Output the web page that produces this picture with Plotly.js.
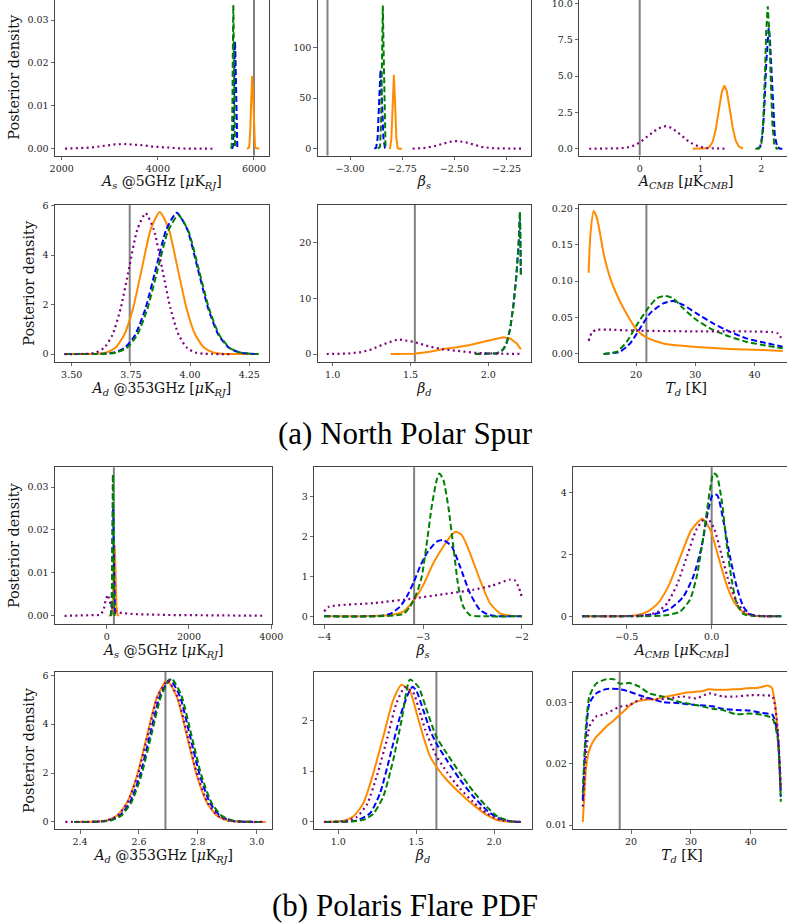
<!DOCTYPE html>
<html>
<head>
<meta charset="utf-8">
<script src="https://cdn.plot.ly/plotly-3.0.1.min.js"></script>
<style>
html,body{margin:0;padding:0;overflow:hidden;background:#fff;width:787px;height:923px;}
#chart{position:absolute;left:0;top:-1px;width:800px;height:925px;}
</style>
</head>
<body>
<div id="chart"></div>
<script>
// ---------------- DATA ----------------
// Vertical grey reference (input) values, one per panel
const truthValues = [6000, -3.108, 0, 3.745, 1.528, 21.73, 175, -3.09, 0, 2.69, 1.63, 18.1];

// (a) North Polar Spur — A_s @5GHz
const p1PurpleX = [2070, 2300, 2500, 2700, 2900, 3100, 3300, 3500, 3700, 3900, 4100, 4300, 4500, 4800, 5150];
const p1PurpleY = [0.00003, 0.00008, 0.0002, 0.0004, 0.0007, 0.001, 0.0011, 0.001, 0.0008, 0.0005, 0.0003, 0.00015, 0.00006, 0.00001, 0];
const p1OrangeX = [5855, 5892, 5903, 5915, 5927, 5939, 5950, 5962, 5974, 5986, 5997, 6009, 6021, 6033, 6110];
const p1OrangeY = [0, 0.0002, 0.0007, 0.0023, 0.0055, 0.0103, 0.015, 0.017, 0.015, 0.0103, 0.0055, 0.0023, 0.0007, 0.0002, 0];
const p1BlueX = [5540, 5557, 5565, 5573, 5581, 5589, 5597, 5605, 5613, 5621, 5629, 5637, 5645, 5653, 5670];
const p1BlueY = [0, 0.0003, 0.0011, 0.0034, 0.0081, 0.0152, 0.0221, 0.025, 0.0221, 0.0152, 0.0081, 0.0034, 0.0011, 0.0003, 0];
const p1GreenX = [5520, 5534, 5540, 5546, 5552, 5558, 5564, 5570, 5576, 5582, 5588, 5594, 5600, 5606, 5620];
const p1GreenY = [0, 0.0004, 0.0015, 0.0045, 0.0109, 0.0203, 0.0296, 0.0335, 0.0296, 0.0203, 0.0109, 0.0045, 0.0015, 0.0004, 0];

// (a) beta_s
const p2PurpleX = [-2.70, -2.65, -2.60, -2.56, -2.52, -2.49, -2.45, -2.41, -2.37, -2.32, -2.27, -2.18];
const p2PurpleY = [0.1, 0.6, 2.3, 4.7, 6.9, 7.6, 6.6, 4.2, 1.9, 0.5, 0.07, 0];
const p2OrangeX = [-2.813, -2.808, -2.802, -2.796, -2.790, -2.784, -2.778, -2.772, -2.765, -2.751];
const p2OrangeY = [0.05, 0.8, 9.9, 44, 73, 44, 9.9, 0.8, 0, 0];
const p2BlueX = [-2.884, -2.875, -2.868, -2.861, -2.854, -2.847, -2.840, -2.833, -2.828];
const p2BlueY = [0, 0.9, 10.5, 47, 78, 47, 10.5, 0.9, 0];
const p2GreenX = [-2.866, -2.856, -2.851, -2.847, -2.843, -2.839, -2.835, -2.830, -2.823];
const p2GreenY = [0, 2.2, 29, 95, 141.6, 95, 29, 2.2, 0];

// (a) A_CMB
const p3PurpleX = [-0.83, -0.6, -0.4, -0.3, -0.2, -0.1, 0.0, 0.1, 0.2, 0.3, 0.42, 0.5, 0.6, 0.7, 0.8, 0.9, 1.0, 1.1, 1.2, 1.4];
const p3PurpleY = [0, 0.001, 0.011, 0.035, 0.093, 0.216, 0.43, 0.74, 1.10, 1.40, 1.55, 1.47, 1.21, 0.85, 0.52, 0.27, 0.12, 0.049, 0.016, 0.001];
const p3OrangeX = [0.87, 1.0, 1.1, 1.15, 1.2, 1.25, 1.3, 1.35, 1.39, 1.43, 1.48, 1.53, 1.58, 1.63, 1.70];
const p3OrangeY = [0, 0.0005, 0.028, 0.137, 0.49, 1.32, 2.64, 3.92, 4.35, 3.99, 2.75, 1.41, 0.54, 0.15, 0.016];
const p3BlueX = [1.93, 1.98, 2.02, 2.05, 2.08, 2.10, 2.12, 2.14, 2.16, 2.19, 2.22, 2.26, 2.31, 2.345];
const p3BlueY = [0.003, 0.12, 0.95, 2.87, 5.87, 7.6, 8.3, 7.6, 5.87, 2.87, 0.95, 0.12, 0.003, 0];
const p3GreenX = [1.90, 1.96, 2.00, 2.03, 2.06, 2.08, 2.105, 2.13, 2.15, 2.18, 2.21, 2.25, 2.28];
const p3GreenY = [0, 0.017, 0.35, 1.79, 5.3, 8.1, 9.8, 8.1, 5.3, 1.79, 0.35, 0.017, 0];

// (a) A_d @353GHz
const p4PurpleX = [3.47, 3.532, 3.567, 3.602, 3.637, 3.672, 3.707, 3.742, 3.777, 3.812, 3.847, 3.882, 3.917, 3.952, 3.987, 4.022, 4.057, 4.092, 4.17];
const p4PurpleY = [0, 0.0017, 0.0125, 0.063, 0.25, 0.771, 1.851, 3.457, 5.03, 5.7, 5.03, 3.457, 1.851, 0.771, 0.25, 0.063, 0.0125, 0.0017, 0];
const p4OrangeX = [3.47, 3.572, 3.6095, 3.647, 3.6845, 3.722, 3.7595, 3.797, 3.8345, 3.872, 3.9095, 3.947, 3.9845, 4.022, 4.0595, 4.097, 4.1345, 4.172, 4.26];
const p4OrangeY = [0, 0.0017, 0.0127, 0.064, 0.252, 0.778, 1.867, 3.487, 5.074, 5.75, 5.074, 3.487, 1.867, 0.778, 0.252, 0.064, 0.0127, 0.0017, 0];
const p4BlueX = [3.47, 3.592, 3.636, 3.68, 3.724, 3.768, 3.812, 3.856, 3.9, 3.944, 3.988, 4.032, 4.076, 4.12, 4.164, 4.208, 4.252, 4.29];
const p4BlueY = [0, 0.0017, 0.0126, 0.0635, 0.251, 0.774, 1.857, 3.469, 5.048, 5.72, 5.048, 3.469, 1.857, 0.774, 0.251, 0.0635, 0.0126, 0.0017];
const p4GreenX = [3.47, 3.602, 3.6455, 3.689, 3.7325, 3.776, 3.8195, 3.863, 3.9065, 3.95, 3.9935, 4.037, 4.0805, 4.124, 4.1675, 4.211, 4.2545, 4.29];
const p4GreenY = [0, 0.0017, 0.0124, 0.0624, 0.247, 0.760, 1.825, 3.409, 4.96, 5.62, 4.96, 3.409, 1.825, 0.760, 0.247, 0.0624, 0.0124, 0.0017];

// (a) beta_d
const p5PurpleX = [0.962, 1.09, 1.175, 1.24, 1.325, 1.42, 1.518, 1.625, 1.711, 1.797, 1.925, 2.054, 2.209];
const p5PurpleY = [0, 0.06, 0.3, 0.72, 1.73, 2.63, 2.2, 1.31, 0.84, 0.54, 0.18, 0.06, 0.01];
const p5OrangeX = [1.373, 1.45, 1.524, 1.625, 1.711, 1.797, 1.883, 1.968, 2.054, 2.096, 2.139, 2.183, 2.209];
const p5OrangeY = [0, 0.02, 0.06, 0.4, 0.9, 1.2, 1.6, 2.2, 2.7, 3.0, 2.8, 1.9, 0.84];
const p5BlueX = [1.915, 2.0, 2.05, 2.08, 2.10, 2.12, 2.14, 2.16, 2.18, 2.195, 2.203, 2.209];
const p5BlueY = [0, 0.02, 0.1, 0.4, 1.0, 2.2, 4.5, 8.5, 14, 20, 25.5, 14];
const p5GreenX = [1.915, 2.0, 2.05, 2.08, 2.10, 2.12, 2.14, 2.16, 2.18, 2.195, 2.203, 2.209];
const p5GreenY = [0, 0.02, 0.1, 0.4, 1.0, 2.2, 4.5, 8.4, 13.9, 20, 25.4, 14.2];

// (a) T_d
const p6PurpleX = [11.98, 12.5, 13.2, 15, 20, 25, 30, 35, 40, 43, 44, 44.7];
const p6PurpleY = [0.018, 0.029, 0.033, 0.0335, 0.032, 0.0315, 0.031, 0.031, 0.0308, 0.030, 0.028, 0.019];
const p6OrangeX = [11.98, 12.27, 12.83, 13.39, 13.95, 14.5, 15.63, 16.76, 17.87, 18.99, 20.1, 21.8, 24.6, 27.4, 30.2, 35.8, 41.4, 44.76];
const p6OrangeY = [0.1116, 0.1633, 0.1963, 0.1862, 0.1633, 0.1382, 0.1039, 0.081, 0.0627, 0.0467, 0.033, 0.0224, 0.0145, 0.0115, 0.0095, 0.007, 0.0055, 0.0042];
const p6BlueX = [14.5, 17.31, 18.99, 20.67, 22.35, 24.6, 26.27, 27.95, 30.2, 33.0, 35.8, 38.6, 41.4, 44.76];
const p6BlueY = [0, 0.0032, 0.0146, 0.0352, 0.0558, 0.0695, 0.0728, 0.0673, 0.0558, 0.0421, 0.0307, 0.0215, 0.016, 0.0101];
const p6GreenX = [14.5, 16.76, 18.43, 20.1, 21.8, 23.47, 24.87, 26.27, 27.95, 30.2, 33.0, 35.8, 38.6, 41.4, 44.76];
const p6GreenY = [0, 0.0032, 0.0169, 0.0398, 0.0604, 0.0764, 0.0796, 0.0764, 0.0627, 0.0467, 0.033, 0.0238, 0.0169, 0.0124, 0.0078];

// (b) Polaris Flare — A_s @5GHz
const p7PurpleX = [-1023, -500, -158, -77, -30, 22, 60, 100, 170, 336, 665, 1489, 2312, 3134, 3790];
const p7PurpleY = [0, 0.00005, 0.0002, 0.0012, 0.0035, 0.0049, 0.004, 0.0025, 0.0012, 0.0007, 0.0004, 0.0002, 0.0001, 0.00005, 0.00002];
const p7OrangeX = [50, 118, 142, 154, 166, 178, 190, 202, 214, 226, 238, 262, 300];
const p7OrangeY = [0, 0.0002, 0.0022, 0.0054, 0.01, 0.0146, 0.0165, 0.0146, 0.01, 0.0054, 0.0022, 0.0002, 0];
const p7BlueX = [90, 107, 123, 131, 139, 147, 155, 163, 171, 179, 187, 203, 220];
const p7BlueY = [0, 0.0003, 0.0034, 0.0081, 0.0152, 0.0221, 0.025, 0.0221, 0.0152, 0.0081, 0.0034, 0.0003, 0];
const p7GreenX = [100, 114, 126, 132, 138, 144, 150, 156, 162, 168, 174, 186, 200];
const p7GreenY = [0, 0.0004, 0.0045, 0.0107, 0.02, 0.0291, 0.033, 0.0291, 0.02, 0.0107, 0.0045, 0.0004, 0];

// (b) beta_s
const p8PurpleX = [-4.0, -3.95, -3.5, -3.09, -2.8, -2.5, -2.3, -2.12, -2.07, -2.03, -2.0];
const p8PurpleY = [0.12, 0.24, 0.33, 0.45, 0.55, 0.66, 0.77, 0.92, 0.9, 0.72, 0.48];
const p8OrangeX = [-4.0, -3.536, -3.334, -3.199, -3.091, -2.997, -2.896, -2.794, -2.71, -2.669, -2.608, -2.524, -2.423, -2.322, -2.22, -2.119, -2.0];
const p8OrangeY = [0, 0.008, 0.033, 0.117, 0.41, 0.785, 1.33, 1.75, 2.04, 2.12, 2.04, 1.58, 0.91, 0.326, 0.075, 0.017, 0];
const p8BlueX = [-4.0, -3.435, -3.334, -3.233, -3.165, -3.091, -3.03, -2.962, -2.861, -2.794, -2.71, -2.625, -2.524, -2.423, -2.322, -2.187, -2.0];
const p8BlueY = [0, 0.008, 0.058, 0.242, 0.49, 0.87, 1.245, 1.58, 1.87, 1.91, 1.75, 1.245, 0.576, 0.159, 0.025, 0, 0];
const p8GreenX = [-4.0, -3.468, -3.2, -3.131, -3.064, -3.013, -2.962, -2.912, -2.861, -2.835, -2.794, -2.744, -2.693, -2.642, -2.592, -2.524, -2.355, -2.0];
const p8GreenY = [0, 0, 0.058, 0.24, 0.58, 0.99, 1.83, 2.75, 3.42, 3.58, 3.42, 2.75, 1.75, 0.74, 0.24, 0.03, 0, 0];

// (b) A_CMB
const p9PurpleX = [-0.761, -0.5, -0.4325, -0.375, -0.3175, -0.26, -0.2025, -0.145, -0.0875, -0.03, 0.015, 0.06, 0.105, 0.15, 0.195, 0.24, 0.285, 0.4];
const p9PurpleY = [0, 0.003, 0.007, 0.036, 0.14, 0.433, 1.039, 1.941, 2.824, 3.2, 2.824, 1.941, 1.039, 0.433, 0.14, 0.036, 0.007, 0];
const p9OrangeX = [-0.761, -0.58, -0.51, -0.445, -0.38, -0.315, -0.25, -0.185, -0.12, -0.055, -0.0075, 0.04, 0.0875, 0.135, 0.1825, 0.23, 0.2775, 0.4];
const p9OrangeY = [0, 0.002, 0.0069, 0.035, 0.138, 0.426, 1.023, 1.91, 2.78, 3.15, 2.78, 1.91, 1.023, 0.426, 0.138, 0.035, 0.0069, 0];
const p9BlueX = [-0.761, -0.5, -0.4, -0.33, -0.24, -0.167, -0.108, -0.059, -0.02, 0.006, 0.033, 0.068, 0.108, 0.147, 0.186, 0.225, 0.284, 0.41];
const p9BlueY = [0, 0.005, 0.03, 0.08, 0.26, 0.63, 1.28, 2.25, 3.43, 3.92, 3.91, 3.11, 1.92, 0.96, 0.31, 0.065, 0.01, 0];
const p9GreenX = [-0.761, -0.4, -0.285, -0.186, -0.128, -0.088, -0.049, -0.01, 0.01, 0.029, 0.059, 0.088, 0.118, 0.147, 0.186, 0.245, 0.41];
const p9GreenY = [0, 0.002, 0.02, 0.15, 0.53, 1.28, 2.57, 4.08, 4.61, 4.56, 3.75, 2.35, 1.17, 0.42, 0.075, 0.01, 0];

// (b) A_d @353GHz
const p10PurpleX = [2.35, 2.425, 2.459, 2.493, 2.527, 2.561, 2.595, 2.629, 2.663, 2.697, 2.731, 2.765, 2.799, 2.833, 2.867, 2.901, 2.935, 2.969, 3.02];
const p10PurpleY = [0, 0.0017, 0.0127, 0.0642, 0.254, 0.782, 1.877, 3.506, 5.101, 5.78, 5.101, 3.506, 1.877, 0.782, 0.254, 0.0642, 0.0127, 0.0017, 0];
const p10OrangeX = [2.38, 2.423, 2.457, 2.491, 2.525, 2.559, 2.593, 2.627, 2.661, 2.695, 2.729, 2.763, 2.797, 2.831, 2.865, 2.899, 2.933, 2.967, 3.03];
const p10OrangeY = [0, 0.0017, 0.0127, 0.0642, 0.254, 0.782, 1.877, 3.506, 5.101, 5.78, 5.101, 3.506, 1.877, 0.782, 0.254, 0.0642, 0.0127, 0.0017, 0];
const p10BlueX = [2.38, 2.433, 2.467, 2.501, 2.535, 2.569, 2.603, 2.637, 2.671, 2.705, 2.739, 2.773, 2.807, 2.841, 2.875, 2.909, 2.943, 2.977, 3.02];
const p10BlueY = [0, 0.0017, 0.0128, 0.0646, 0.2555, 0.7875, 1.89, 3.53, 5.136, 5.82, 5.136, 3.53, 1.89, 0.7875, 0.2555, 0.0646, 0.0128, 0.0017, 0];
const p10GreenX = [2.38, 2.438, 2.472, 2.506, 2.54, 2.574, 2.608, 2.642, 2.676, 2.71, 2.744, 2.778, 2.812, 2.846, 2.88, 2.914, 2.948, 2.982, 3.02];
const p10GreenY = [0, 0.0018, 0.0129, 0.065, 0.257, 0.793, 1.903, 3.554, 5.171, 5.86, 5.171, 3.554, 1.903, 0.793, 0.257, 0.065, 0.0129, 0.0018, 0];

// (b) beta_d
const p11PurpleX = [0.908, 1.05, 1.12, 1.185, 1.25, 1.315, 1.375, 1.428, 1.48, 1.52, 1.56, 1.6, 1.629, 1.7, 1.78, 1.867, 1.953, 2.039, 2.171];
const p11PurpleY = [0, 0.02, 0.1, 0.35, 0.93, 1.65, 2.35, 2.65, 2.55, 2.2, 1.8, 1.5, 1.3, 0.97, 0.66, 0.39, 0.17, 0.04, 0];
const p11OrangeX = [0.908, 1.032, 1.096, 1.161, 1.225, 1.289, 1.353, 1.407, 1.46, 1.503, 1.546, 1.589, 1.629, 1.696, 1.782, 1.867, 1.953, 2.039, 2.171];
const p11OrangeY = [0, 0.02, 0.105, 0.367, 0.958, 1.68, 2.4, 2.7, 2.57, 2.14, 1.68, 1.29, 1.09, 0.83, 0.564, 0.335, 0.138, 0.02, 0];
const p11BlueX = [0.908, 0.99, 1.118, 1.204, 1.268, 1.332, 1.396, 1.45, 1.478, 1.503, 1.546, 1.589, 1.629, 1.696, 1.782, 1.867, 1.953, 2.017, 2.103, 2.171];
const p11BlueY = [0, 0, 0.026, 0.17, 0.564, 1.29, 2.07, 2.53, 2.66, 2.57, 2.2, 1.81, 1.55, 1.22, 0.83, 0.5, 0.23, 0.09, 0.013, 0];
const p11GreenX = [0.908, 1.075, 1.161, 1.225, 1.289, 1.353, 1.407, 1.46, 1.514, 1.568, 1.629, 1.696, 1.782, 1.867, 1.953, 2.017, 2.103, 2.171];
const p11GreenY = [0, 0.007, 0.04, 0.157, 0.5, 1.22, 2.01, 2.8, 2.66, 2.2, 1.68, 1.35, 0.96, 0.6, 0.3, 0.118, 0.013, 0];

// (b) T_d
const p12PurpleX = [11.93, 12.49, 13.04, 14.15, 15.82, 18.04, 19.72, 21.94, 24.16, 26.38, 28.6, 30.83, 33.05, 35.27, 37.5, 39.72, 41.94, 43.6, 44.44, 45.0];
const p12PurpleY = [0.013, 0.0217, 0.0261, 0.0277, 0.0282, 0.0293, 0.0296, 0.0307, 0.0305, 0.0307, 0.031, 0.0307, 0.0315, 0.031, 0.031, 0.0312, 0.0312, 0.031, 0.026, 0.0163];
const p12OrangeX = [11.93, 12.2, 12.5, 13.0, 14, 15, 16, 17, 18.1, 19, 20, 21, 22, 23, 24, 25, 26, 27, 28, 29, 30, 31, 32, 33, 34, 35, 36, 37, 38, 39, 40, 41, 42, 42.8, 43.5, 44, 44.5, 45];
const p12OrangeY = [0.0105, 0.015, 0.0195, 0.0222, 0.0242, 0.0252, 0.0262, 0.027, 0.028, 0.0288, 0.0297, 0.0302, 0.0304, 0.0305, 0.0305, 0.0308, 0.031, 0.0312, 0.0314, 0.0316, 0.0317, 0.0318, 0.0319, 0.0322, 0.0321, 0.0321, 0.0321, 0.0322, 0.0322, 0.0323, 0.0324, 0.0324, 0.0326, 0.0328, 0.0324, 0.030, 0.025, 0.0155];
const p12BlueX = [11.93, 12.49, 13.04, 14.15, 15.82, 18.04, 19.72, 21.38, 23.05, 25.27, 28.05, 30.83, 33.6, 35.27, 37.5, 39.72, 41.94, 43.6, 44.44, 45.0];
const p12BlueY = [0.0141, 0.025, 0.0299, 0.0315, 0.0322, 0.0322, 0.0318, 0.0312, 0.0307, 0.0301, 0.0299, 0.0296, 0.0294, 0.029, 0.0288, 0.0287, 0.0283, 0.028, 0.025, 0.0146];
const p12GreenX = [11.93, 12.49, 13.04, 14.15, 15.82, 17.2, 18.04, 19.72, 21.38, 23.05, 25.27, 28.05, 30.83, 33.6, 35.27, 37.5, 39.72, 41.94, 43.6, 44.44, 45.0];
const p12GreenY = [0.0152, 0.0266, 0.031, 0.0331, 0.0338, 0.0338, 0.0331, 0.0332, 0.0326, 0.0315, 0.031, 0.0301, 0.0296, 0.029, 0.0288, 0.0281, 0.0282, 0.028, 0.0274, 0.0244, 0.0138];

// Tick values / labels
const p1XTicks = [2000, 4000, 6000], p1XText = ['2000', '4000', '6000'];
const p1YTicks = [0, 0.01, 0.02, 0.03], p1YText = ['0.00', '0.01', '0.02', '0.03'];
const p2XTicks = [-3.0, -2.75, -2.5, -2.25], p2XText = ['\u22123.00', '\u22122.75', '\u22122.50', '\u22122.25'];
const p2YTicks = [0, 50, 100], p2YText = ['0', '50', '100'];
const p3XTicks = [0, 1, 2], p3XText = ['0', '1', '2'];
const p3YTicks = [0, 2.5, 5, 7.5, 10], p3YText = ['0.0', '2.5', '5.0', '7.5', '10.0'];
const p4XTicks = [3.5, 3.75, 4.0, 4.25], p4XText = ['3.50', '3.75', '4.00', '4.25'];
const p4YTicks = [0, 2, 4, 6], p4YText = ['0', '2', '4', '6'];
const p5XTicks = [1.0, 1.5, 2.0], p5XText = ['1.0', '1.5', '2.0'];
const p5YTicks = [0, 10, 20], p5YText = ['0', '10', '20'];
const p6XTicks = [20, 30, 40], p6XText = ['20', '30', '40'];
const p6YTicks = [0, 0.05, 0.1, 0.15, 0.2], p6YText = ['0.00', '0.05', '0.10', '0.15', '0.20'];
const p7XTicks = [0, 2000, 4000], p7XText = ['0', '2000', '4000'];
const p7YTicks = [0, 0.01, 0.02, 0.03], p7YText = ['0.00', '0.01', '0.02', '0.03'];
const p8XTicks = [-4, -3, -2], p8XText = ['\u22124', '\u22123', '\u22122'];
const p8YTicks = [0, 1, 2, 3], p8YText = ['0', '1', '2', '3'];
const p9XTicks = [-0.5, 0.0], p9XText = ['\u22120.5', '0.0'];
const p9YTicks = [0, 2, 4], p9YText = ['0', '2', '4'];
const p10XTicks = [2.4, 2.6, 2.8, 3.0], p10XText = ['2.4', '2.6', '2.8', '3.0'];
const p10YTicks = [0, 2, 4, 6], p10YText = ['0', '2', '4', '6'];
const p11XTicks = [1.0, 1.5, 2.0], p11XText = ['1.0', '1.5', '2.0'];
const p11YTicks = [0, 1, 2], p11YText = ['0', '1', '2'];
const p12XTicks = [20, 30, 40], p12XText = ['20', '30', '40'];
const p12YTicks = [0.01, 0.02, 0.03], p12YText = ['0.01', '0.02', '0.03'];

// Axis titles and captions
const labelAs = '<i>A</i><sub><i>s</i></sub> @5GHz [<i>\u03bc</i>K<sub><i>RJ</i></sub>]';
const labelBs = '<i>\u03b2</i><sub><i>s</i></sub>';
const labelAcmb = '<i>A</i><sub><i>CMB</i></sub> [<i>\u03bc</i>K<sub><i>CMB</i></sub>]';
const labelAd = '<i>A</i><sub><i>d</i></sub> @353GHz [<i>\u03bc</i>K<sub><i>RJ</i></sub>]';
const labelBd = '<i>\u03b2</i><sub><i>d</i></sub>';
const labelTd = '<i>T</i><sub><i>d</i></sub> [K]';
const yLabel = 'Posterior density';
const captionA = '(a) North Polar Spur';
const captionB = '(b) Polaris Flare PDF';

// ---------------- LAYOUT / STYLE ----------------
const W = 800, H = 925, OFFY = 1;
function dX(a, b) { return [a / W, b / W]; }
function dY(top, bottom) { return [1 - (bottom + OFFY) / H, 1 - (top + OFFY) / H]; }

const panels = [
  {px:[55,268.7],   py:[-1.0,155.6], xr:[1861,6306],     yr:[-0.0016,0.0349], xv:p1XTicks, xt:p1XText, yv:p1YTicks, yt:p1YText, xl:labelAs, yl:true,
   s:[[p1PurpleX,p1PurpleY],[p1OrangeX,p1OrangeY],[p1BlueX,p1BlueY],[p1GreenX,p1GreenY]], sm:false},
  {px:[317.7,531],  py:[-1.0,155.6], xr:[-3.155,-2.133], yr:[-6.8,148.0],     xv:p2XTicks, xt:p2XText, yv:p2YTicks, yt:p2YText, xl:labelBs, yl:false,
   s:[[p2PurpleX,p2PurpleY],[p2OrangeX,p2OrangeY],[p2BlueX,p2BlueY],[p2GreenX,p2GreenY]], sm:false},
  {px:[579.3,793],  py:[-1.0,155.6], xr:[-0.993,2.52],   yr:[-0.47,10.30],    xv:p3XTicks, xt:p3XText, yv:p3YTicks, yt:p3YText, xl:labelAcmb, yl:false,
   s:[[p3PurpleX,p3PurpleY],[p3OrangeX,p3OrangeY],[p3BlueX,p3BlueY],[p3GreenX,p3GreenY]], sm:false, yshift:-2.5},
  {px:[55,268.7],   py:[205,361.7],  xr:[3.4295,4.332],  yr:[-0.31,6.03],     xv:p4XTicks, xt:p4XText, yv:p4YTicks, yt:p4YText, xl:labelAd, yl:true,
   s:[[p4PurpleX,p4PurpleY],[p4OrangeX,p4OrangeY],[p4BlueX,p4BlueY],[p4GreenX,p4GreenY]], sm:true},
  {px:[317.7,531],  py:[205,361.7],  xr:[0.904,2.274],   yr:[-1.38,26.7],     xv:p5XTicks, xt:p5XText, yv:p5YTicks, yt:p5YText, xl:labelBd, yl:false,
   s:[[p5PurpleX,p5PurpleY],[p5OrangeX,p5OrangeY],[p5BlueX,p5BlueY],[p5GreenX,p5GreenY]], sm:false},
  {px:[579.3,793],  py:[205,361.7],  xr:[10.4,46.5],     yr:[-0.0106,0.2046], xv:p6XTicks, xt:p6XText, yv:p6YTicks, yt:p6YText, xl:labelTd, yl:false,
   s:[[p6PurpleX,p6PurpleY],[p6OrangeX,p6OrangeY],[p6BlueX,p6BlueY],[p6GreenX,p6GreenY]], sm:true},
  {px:[55,272.4],   py:[467.3,624],  xr:[-1256,4027],    yr:[-0.0019,0.0346], xv:p7XTicks, xt:p7XText, yv:p7YTicks, yt:p7YText, xl:labelAs, yl:true,
   s:[[p7PurpleX,p7PurpleY],[p7OrangeX,p7OrangeY],[p7BlueX,p7BlueY],[p7GreenX,p7GreenY]], sm:false},
  {px:[314.3,531.7],py:[467.3,624],  xr:[-4.1,-1.9],     yr:[-0.193,3.735],   xv:p8XTicks, xt:p8XText, yv:p8YTicks, yt:p8YText, xl:labelBs, yl:false,
   s:[[p8PurpleX,p8PurpleY],[p8OrangeX,p8OrangeY],[p8BlueX,p8BlueY],[p8GreenX,p8GreenY]], sm:true},
  {px:[573.3,790.7],py:[467.3,624],  xr:[-0.814,0.465],  yr:[-0.25,4.81],     xv:p9XTicks, xt:p9XText, yv:p9YTicks, yt:p9YText, xl:labelAcmb, yl:false,
   s:[[p9PurpleX,p9PurpleY],[p9OrangeX,p9OrangeY],[p9BlueX,p9BlueY],[p9GreenX,p9GreenY]], sm:true},
  {px:[55,272.4],   py:[672,829],    xr:[2.315,3.053],   yr:[-0.29,6.13],     xv:p10XTicks, xt:p10XText, yv:p10YTicks, yt:p10YText, xl:labelAd, yl:true,
   s:[[p10PurpleX,p10PurpleY],[p10OrangeX,p10OrangeY],[p10BlueX,p10BlueY],[p10GreenX,p10GreenY]], sm:true},
  {px:[314.3,531.7],py:[672,829],    xr:[0.846,2.242],   yr:[-0.14,2.95],     xv:p11XTicks, xt:p11XText, yv:p11YTicks, yt:p11YText, xl:labelBd, yl:false,
   s:[[p11PurpleX,p11PurpleY],[p11OrangeX,p11OrangeY],[p11BlueX,p11BlueY],[p11GreenX,p11GreenY]], sm:true},
  {px:[573.3,790.7],py:[672,829],    xr:[10.35,46.65],   yr:[0.00935,0.035],  xv:p12XTicks, xt:p12XText, yv:p12YTicks, yt:p12YText, xl:labelTd, yl:false,
   s:[[p12PurpleX,p12PurpleY],[p12OrangeX,p12OrangeY],[p12BlueX,p12BlueY],[p12GreenX,p12GreenY]], sm:true}
];

// series order in arrays: purple, orange, blue, green ; draw order: orange, blue, green, purple
const seriesStyle = [
  {color:'#800080', width:2.2, dash:'2px,3.4px'},
  {color:'#ff8c00', width:2.0, dash:'solid'},
  {color:'#0000ff', width:2.0, dash:'6px,3px'},
  {color:'#008000', width:2.0, dash:'6px,3px'}
];
const drawOrder = [1, 2, 3, 0];

const FONT = 'DejaVu Serif, Liberation Serif, serif';
const traces = [];
const layout = {
  width: W, height: H,
  margin: {l:0, r:0, t:0, b:0},
  paper_bgcolor: '#ffffff', plot_bgcolor: '#ffffff',
  showlegend: false,
  font: {family: FONT, color: '#222'},
  shapes: [], annotations: []
};

panels.forEach((p, i) => {
  const n = i + 1;
  const xa = n === 1 ? 'x' : 'x' + n;
  const ya = n === 1 ? 'y' : 'y' + n;
  const xk = n === 1 ? 'xaxis' : 'xaxis' + n;
  const yk = n === 1 ? 'yaxis' : 'yaxis' + n;
  const axCommon = {
    showgrid:false, zeroline:false, showline:true, mirror:true,
    linecolor:'#444', linewidth:1, ticks:'outside', ticklen:3.5, tickwidth:0.8, tickcolor:'#444',
    tickmode:'array', tickfont:{family:FONT, size:9.5, color:'#222'}, fixedrange:true,
    ticklabeloverflow:'allow'
  };
  layout[xk] = Object.assign({}, axCommon, {
    domain: dX(p.px[0], p.px[1]), anchor: ya, range: p.xr,
    tickvals: p.xv, ticktext: p.xt,
    title: {text: p.xl, font:{family:FONT, size:14, color:'#111'}, standoff: 3}
  });
  const yAxis = Object.assign({}, axCommon, {
    domain: dY(p.py[0], p.py[1]), anchor: xa, range: p.yr,
    tickvals: p.yv, ticktext: p.yt
  });
  if (p.yshift) yAxis.ticklabelshift = p.yshift;
  if (p.yl) yAxis.title = {text: yLabel, font:{family:FONT, size:14.5, color:'#111'}, standoff: 4};
  layout[yk] = yAxis;
  layout.shapes.push({
    type:'line', xref: xa, yref: ya + ' domain', x0: truthValues[i], x1: truthValues[i], y0: 0, y1: 1,
    line:{color:'#808080', width:2}, layer:'below'
  });
  drawOrder.forEach(k => {
    const st = seriesStyle[k];
    traces.push({
      type:'scatter', mode:'lines', x: p.s[k][0], y: p.s[k][1], xaxis: xa, yaxis: ya,
      line: {color: st.color, width: st.width, dash: st.dash, shape: p.sm ? 'spline' : 'linear', smoothing: 0.6},
      hoverinfo:'skip'
    });
  });
});

layout.annotations.push({
  text: captionA, xref:'paper', yref:'paper', x: 405 / W, y: 1 - (433 + OFFY) / H,
  xanchor:'center', yanchor:'middle', showarrow:false,
  font:{family:'Liberation Serif, DejaVu Serif, serif', size:31, color:'#000'}
});
layout.annotations.push({
  text: captionB, xref:'paper', yref:'paper', x: 405 / W, y: 1 - (905 + OFFY) / H,
  xanchor:'center', yanchor:'middle', showarrow:false,
  font:{family:'Liberation Serif, DejaVu Serif, serif', size:31, color:'#000'}
});

Plotly.newPlot('chart', traces, layout, {staticPlot:true, displayModeBar:false});
</script>
</body>
</html>
